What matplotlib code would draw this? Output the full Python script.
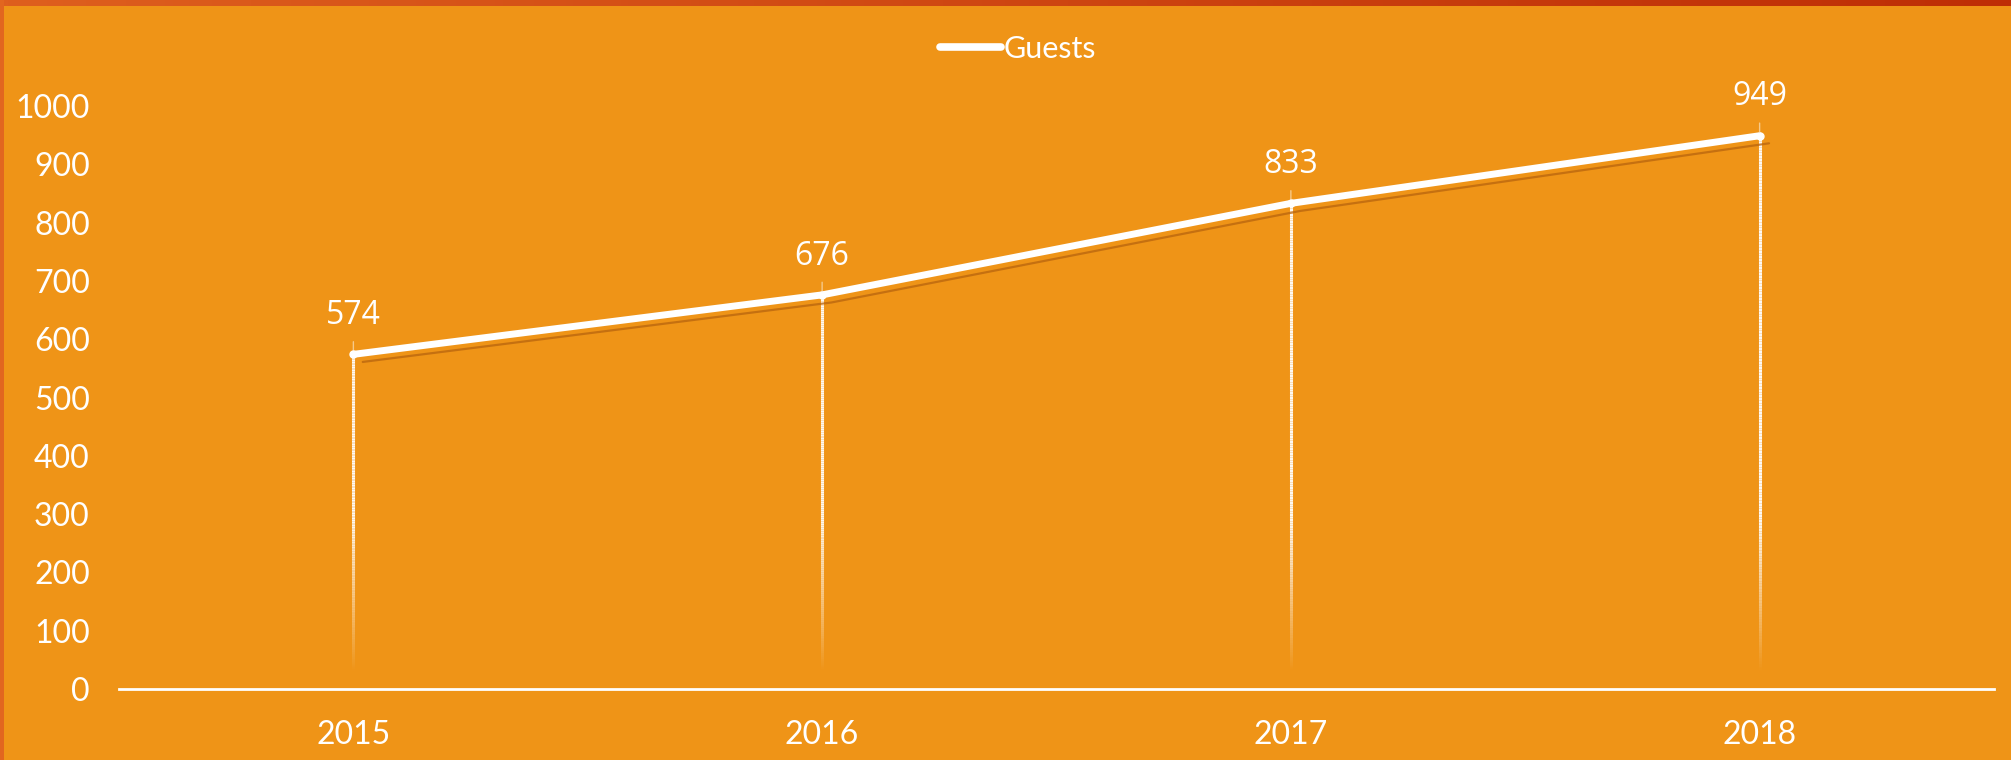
import numpy as np
import matplotlib
matplotlib.use("Agg")
import matplotlib.pyplot as plt
from matplotlib.collections import LineCollection
from matplotlib.colors import LinearSegmentedColormap
from matplotlib.patches import Rectangle

years = ["2015", "2016", "2017", "2018"]
guests = [574, 676, 833, 949]
yticks = [0, 100, 200, 300, 400, 500, 600, 700, 800, 900, 1000]

bg = "#EF9417"
W, H = 2011, 760

fig = plt.figure(figsize=(W / 100, H / 100), dpi=100, facecolor=bg)

# border stripes along the top and left edges
band = fig.add_axes([0, 1 - 6 / H, 1, 6 / H])
band.imshow(np.linspace(0, 1, 256)[None, :], aspect="auto",
            cmap=LinearSegmentedColormap.from_list("band", ["#DE5F1E", "#BE2E06"]))
band.axis("off")
fig.patches.append(Rectangle((0, 0), 4 / W, 1, transform=fig.transFigure,
                             facecolor="#E2661F", edgecolor="none"))

ax = fig.add_axes([119 / W, 1 - 689 / H, (1994 - 119) / W, (689 - 106) / H])
ax.set_facecolor(bg)
x = np.arange(len(years))

# drop lines from each point, fading towards the axis
for xi, v in zip(x, guests):
    ys = np.linspace(0, v, 200)
    segs = [[(xi, ys[i]), (xi, ys[i + 1])] for i in range(len(ys) - 1)]
    alpha = np.clip((ys[:-1] - 30) / 260, 0, 1) * 0.95
    cols = [(1, 1, 1, a) for a in alpha]
    ax.add_collection(LineCollection(segs, colors=cols, linewidths=2.2, zorder=2))

# soft shadow below the line
ax.plot(x + 0.02, np.array(guests) - 13, color="#B8640E", lw=1.6, alpha=0.75,
        zorder=2, solid_capstyle="round")
ax.plot(x, guests, color="white", lw=5, zorder=3, solid_capstyle="round",
        solid_joinstyle="round", label="Guests")
ax.plot(x, guests, "o", color="white", ms=5, zorder=4)

for xi, v in zip(x, guests):
    ax.annotate(str(v), (xi, v), xytext=(0, 28), textcoords="offset points",
                ha="center", va="center", color="white", fontsize=23,
                family="Open Sans", fontweight="medium",
                arrowprops=dict(arrowstyle="-", color="#F6C98A", lw=1,
                                relpos=(0.5, 0), shrinkA=5, shrinkB=2))

ax.set_xlim(-0.5, len(years) - 0.5)
ax.set_ylim(0, 1000)
ax.set_xticks(x)
ax.set_xticklabels(years)
ax.set_yticks(yticks)
ax.tick_params(axis="x", length=0, pad=22, labelsize=23, labelcolor="white")
ax.tick_params(axis="y", length=0, pad=21, labelsize=23, labelcolor="white")
for lab in ax.get_xticklabels() + ax.get_yticklabels():
    lab.set_family("Lato")
for s in ["top", "right", "left"]:
    ax.spines[s].set_visible(False)
ax.spines["bottom"].set_color("white")
ax.spines["bottom"].set_linewidth(2)

leg = fig.legend(loc="center", bbox_to_anchor=(1018 / W, 1 - 49 / H), frameon=False,
                 prop={"family": "Lato", "size": 22}, labelcolor="white",
                 handlelength=2.0, handletextpad=0.1)
for h in leg.legend_handles:
    h.set_linewidth(5.5)

fig.savefig("out.png", dpi=100, facecolor=bg)
